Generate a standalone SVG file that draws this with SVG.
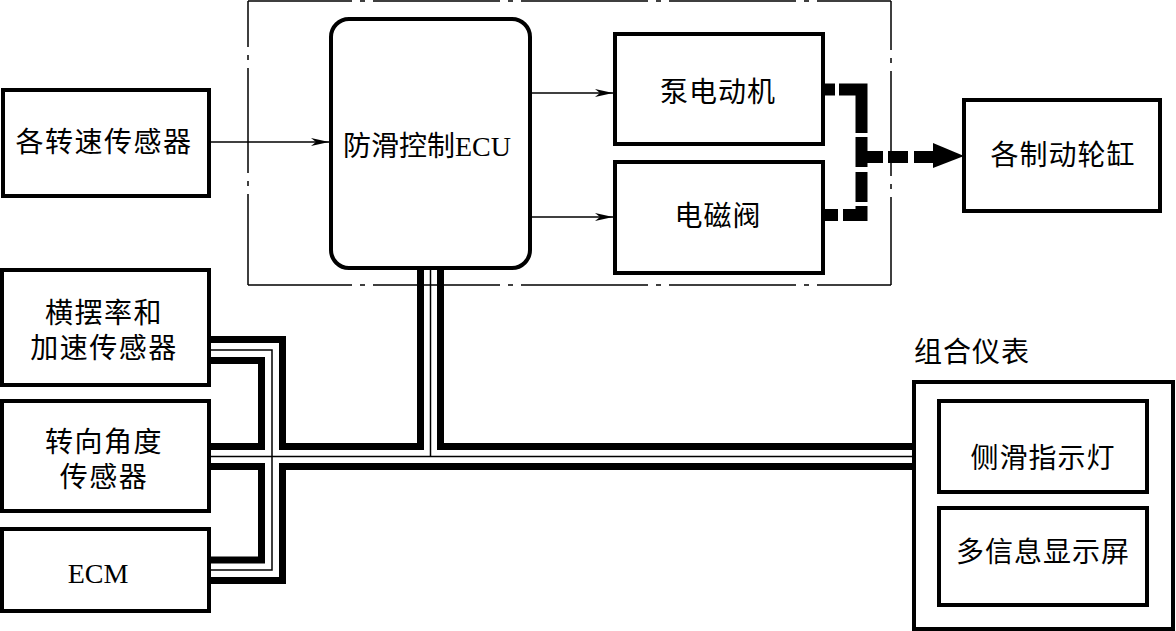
<svg xmlns="http://www.w3.org/2000/svg" width="1176" height="631" viewBox="0 0 1176 631">
<defs>
<style>
.box{fill:#fff;stroke:#000;stroke-width:4}
.t{font-family:"Liberation Serif","Noto Sans CJK SC",serif;font-size:28px;fill:#000;text-anchor:middle;dominant-baseline:central}
.border{fill:none;stroke:#000;stroke-width:1.5}
.thin{fill:none;stroke:#000;stroke-width:1.4}
.thick{fill:none;stroke:#000;stroke-width:7;stroke-linejoin:miter}
.th1{fill:none;stroke:#000;stroke-width:1.5}
.hyd{fill:none;stroke:#000;stroke-width:12;stroke-linejoin:miter}
</style>
<marker id="arr" markerUnits="userSpaceOnUse" markerWidth="18" markerHeight="8" refX="18" refY="4" orient="auto">
<path d="M0,0 L18,4 L0,8 L5,4 z" fill="#000"/>
</marker>
</defs>
<rect width="1176" height="631" fill="#fff"/>
<g id="boundary">
<line class="border" x1="248" y1="1" x2="891" y2="1" stroke-dasharray="127 8 5 8" stroke-dashoffset="23"/>
<line class="border" x1="248" y1="285" x2="891" y2="285" stroke-dasharray="127 8 5 8" stroke-dashoffset="23"/>
<line class="border" x1="248" y1="1" x2="248" y2="285" stroke-dasharray="105 8 5 8" stroke-dashoffset="59"/>
<line class="border" x1="891" y1="1" x2="891" y2="285" stroke-dasharray="105 8 5 8" stroke-dashoffset="56"/>
</g>
<g id="connectors">
<line class="thin" x1="211" y1="142" x2="329" y2="142" marker-end="url(#arr)"/>
<line class="thin" x1="532" y1="93" x2="613" y2="93" marker-end="url(#arr)"/>
<line class="thin" x1="532" y1="217" x2="613" y2="217" marker-end="url(#arr)"/>
<path class="thick" d="M209,339.5 H282.5 V446.5 H420.5 V268"/>
<path class="thick" d="M209,360.5 H261.5 V446.5 H209"/>
<path class="thick" d="M209,466.5 H261.5 V560 H209"/>
<path class="thick" d="M209,580.5 H282.5 V466.5 H912"/>
<path class="thick" d="M440.5,268 V446.5 H912"/>
<path class="th1" d="M209,350 H272 V570 H209"/>
<path class="th1" d="M209,456.5 H912"/>
<path class="th1" d="M430.5,268 V456.5"/>
<line class="hyd" x1="823" y1="89.5" x2="835" y2="89.5"/>
<path class="hyd" d="M839,89.5 H861.5 V133"/>
<path class="hyd" d="M861.5,137 V167"/>
<line class="hyd" x1="861.5" y1="157" x2="883" y2="157"/>
<line class="hyd" x1="888" y1="157" x2="908" y2="157"/>
<line class="hyd" x1="914" y1="157" x2="934" y2="157"/>
<polygon points="933,143 964,156 933,168" fill="#000"/>
<line class="hyd" x1="861.5" y1="172" x2="861.5" y2="202"/>
<path class="hyd" d="M861.5,206 V215 H843"/>
<line class="hyd" x1="823" y1="215" x2="838" y2="215"/>
</g>
<g id="node-wheel-speed">
<rect class="box" x="3" y="90" width="206" height="106"/>
<text class="t" x="104" y="142" letter-spacing="1.5">各转速传感器</text>
</g>
<g id="node-ecu">
<rect class="box" x="331" y="19" width="199" height="249" rx="18" ry="18"/>
<text class="t" x="427" y="146">防滑控制ECU</text>
</g>
<g id="node-pump">
<rect class="box" x="615" y="34" width="208" height="110"/>
<text class="t" x="718" y="92" letter-spacing="1">泵电动机</text>
</g>
<g id="node-valve">
<rect class="box" x="615" y="162" width="208" height="111"/>
<text class="t" x="718" y="216" letter-spacing="1">电磁阀</text>
</g>
<g id="node-wheel-cyl">
<rect class="box" x="964" y="100" width="196" height="111"/>
<text class="t" x="1063" y="155" letter-spacing="1">各制动轮缸</text>
</g>
<g id="node-yaw">
<rect class="box" x="2" y="270" width="207" height="115"/>
<text class="t" x="104" y="313" letter-spacing="1.5">横摆率和</text>
<text class="t" x="104" y="348" letter-spacing="1.5">加速传感器</text>
</g>
<g id="node-steer">
<rect class="box" x="2" y="401" width="207" height="110"/>
<text class="t" x="104" y="442" letter-spacing="1.5">转向角度</text>
<text class="t" x="104" y="477" letter-spacing="1.5">传感器</text>
</g>
<g id="node-ecm">
<rect class="box" x="2" y="529" width="207" height="82"/>
<text class="t" x="98" y="573">ECM</text>
</g>
<g id="node-cluster">
<text class="t" x="972" y="352" letter-spacing="1">组合仪表</text>
<rect class="box" x="914" y="382" width="259" height="247"/>
<rect class="box" x="939" y="401" width="208" height="91"/>
<text class="t" x="1043" y="458" letter-spacing="1">侧滑指示灯</text>
<rect class="box" x="939" y="508" width="208" height="97"/>
<text class="t" x="1043" y="552" letter-spacing="1">多信息显示屏</text>
</g>
</svg>
